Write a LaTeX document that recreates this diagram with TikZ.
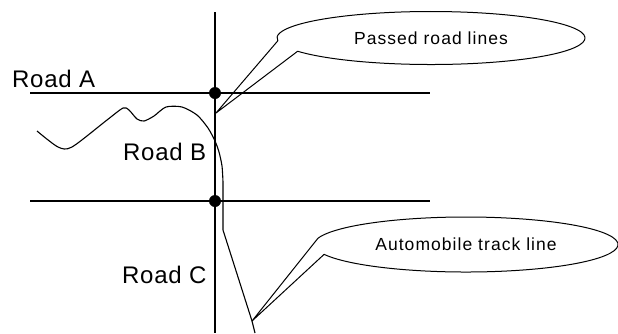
\documentclass[tikz,border=0pt]{standalone}
\usepackage{fontspec}
\setmainfont{Liberation Sans}
\usepackage{tikz}
\definecolor{rdink}{HTML}{000000}
\tikzset{
  rdline/.style={draw=rdink, line width=1.3pt},
  rdtrack/.style={draw=rdink, line width=1.1pt, line join=round},
  rddot/.style={circle, fill=rdink, minimum size=12pt, inner sep=0pt},
  rdlabel/.style={font=\fontsize{24}{28}\selectfont\addfontfeature{LetterSpace=3}, inner sep=0pt},
  rdnote/.style={inner sep=0pt, font=\fontsize{17.5}{20}\selectfont\addfontfeature{LetterSpace=6}},
  rdcall/.style={draw=rdink, line width=1pt, line join=round},
}

\begin{document}
\begin{tikzpicture}[x=1pt,y=-1pt]
  \useasboundingbox (0,0) rectangle (618,333);
  % border line and the two road lines
  \coordinate (vtop) at (215,12);
  \coordinate (vbot) at (215,333);
  \coordinate (roadAw) at (30,93);
  \coordinate (roadAe) at (430,93);
  \coordinate (roadBw) at (30,201);
  \coordinate (roadBe) at (430,201);
  \draw[rdline] (vtop) -- (vbot);
  \draw[rdline] (roadAw) -- (roadAe);
  \draw[rdline] (roadBw) -- (roadBe);
  \node[rddot] (dotA) at (215,93) {};
  \node[rddot] (dotB) at (215,201) {};
  \node[rdlabel, anchor=base west] (roadA) at (12,87) {Road A};
  \node[rdlabel, anchor=base west] (roadB) at (123,160) {Road B};
  \node[rdlabel, anchor=base west] (roadC) at (122,283) {Road C};
  % track of the automobile
  \coordinate (tipA) at (216,113);
  \coordinate (tipC) at (252,321);
  \draw[rdtrack] plot[smooth, tension=0.45] coordinates {
      (37,131) (58,147) (72,147) (107,120) (123,108) (129,110) (137,119)
      (144,121) (154,116) (166,107) (182,107) (197,115) (208,128)
      (215,141) (219,152) (222,166) (223,182)}
    -- (223,230) -- (tipC) -- (255,333);
  % callouts
  \node[rdnote] (passed) at (431,38) {Passed road lines};
  \node[rdnote] (track) at (466,244.5) {Automobile track line};
  \path (passed.center) ++(174:154 and 26.5) coordinate (passedP1)
        (passed.center) ++(150:154 and 26.5) coordinate (passedP2);
  \path (track.center) ++(-167:152 and 27.5) coordinate (trackP1)
        (track.center) ++(159:152 and 27.5) coordinate (trackP2);
  \draw[rdcall] (passedP1) -- (tipA) -- (passedP2)
    arc[start angle=150, end angle=-186, x radius=154, y radius=26.5];
  \draw[rdcall] (trackP1) -- (tipC) -- (trackP2)
    arc[start angle=159, end angle=-167, x radius=152, y radius=27.5];
\end{tikzpicture}
\end{document}
